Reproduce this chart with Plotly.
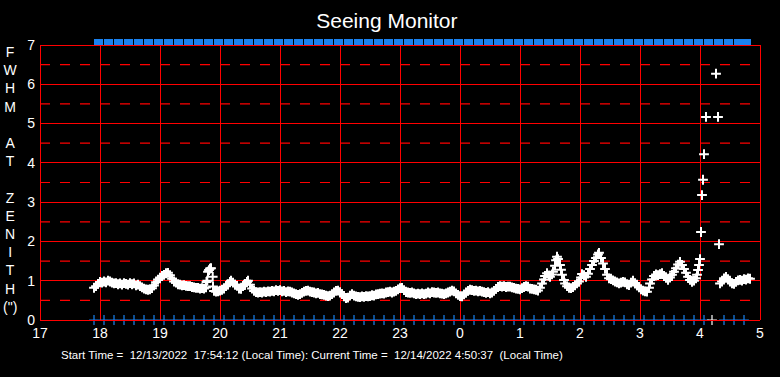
import plotly.graph_objects as go

# ---------------- data (times in minutes after 17:00 local) ----------------
seeing_minutes = [
    54, 56, 58, 60, 62, 64, 66, 68, 70, 72, 74, 76, 78, 80, 82, 84, 86, 88, 90, 92, 94, 96, 98,
    100, 102, 104, 106, 108, 110, 112, 114, 116, 118, 120, 122, 124, 126, 128, 130, 132, 134,
    136, 138, 140, 142, 144, 146, 148, 150, 152, 154, 156, 158, 160, 162, 164, 166,
    166.5, 167.3, 168, 169, 170, 171, 172.7, 173,
    174, 176, 178, 180, 182, 184, 186, 188, 190, 191, 193, 195, 197, 199, 201, 203, 205, 207,
    208, 210, 212, 214, 216, 218, 220, 222, 224, 226, 228, 230, 232, 234, 236, 238, 240, 242,
    244, 246, 248, 250, 252, 254, 256, 258, 260, 262, 264, 266, 268, 270, 272, 274, 276, 278,
    280, 282, 284, 286, 288, 290, 292, 294, 296, 298, 300, 302, 304, 306, 308, 310, 312, 314,
    316, 318, 320, 322, 324, 326, 328, 330, 332, 334, 336, 338, 340, 342, 344, 346, 348, 350,
    352, 354, 356, 358, 360, 362, 364, 366, 368, 370, 372, 374, 376, 378, 380, 382, 384, 386,
    388, 390, 392, 394, 396, 398, 400, 402, 404, 406, 408, 410, 412, 414, 416, 418, 420, 422,
    424, 426, 428, 430, 432, 434, 436, 438, 440, 442, 444, 446, 448, 450, 452, 454, 456, 458,
    460, 462, 464, 466, 468, 470, 472, 474, 476, 478, 480, 482, 484, 486, 488, 490, 492, 494,
    496, 498, 500, 502, 504, 505, 507, 509, 510, 512, 513, 515, 516, 517, 518, 520, 521, 522,
    524, 525, 527, 529, 531, 533, 535, 537, 539, 541, 542, 544, 546, 548, 550, 552, 554, 556,
    558, 559, 561, 563, 565, 567, 569, 571, 573, 575, 577, 579, 581, 583, 585, 587, 589, 591,
    593, 595, 597, 599, 601, 603, 605, 607, 609, 610, 612, 614, 616, 618, 620, 622, 624, 626,
    628, 630, 632, 634, 636, 638, 640, 642, 644, 646, 648, 650, 652, 654, 656, 657, 658, 659,
    660, 661, 662, 663, 664, 666, 676, 678, 679,
    680, 682, 684, 686, 688, 690, 692, 694, 696, 698, 700, 702, 704, 706, 708, 710,
]
seeing_fwhm = [
    0.82, 0.86, 0.92, 0.97, 0.95, 0.98, 0.96, 1.00, 0.98, 0.95, 0.93, 0.94, 0.91, 0.93, 0.90,
    0.94, 0.92, 0.90, 0.94, 0.91, 0.93, 0.88, 0.90,
    0.86, 0.83, 0.80, 0.78, 0.77, 0.78, 0.81, 0.88, 0.96, 1.03, 1.08, 1.12, 1.15, 1.19, 1.20,
    1.14, 1.05, 0.98, 0.95, 0.91, 0.90, 0.88, 0.89, 0.87, 0.86, 0.86, 0.84, 0.83, 0.82, 0.82,
    0.80, 0.81, 0.80, 0.83,
    0.97, 1.00, 1.23, 1.27, 1.31, 1.32, 1.10, 0.85,
    0.74, 0.72, 0.73, 0.75, 0.77, 0.80, 0.86, 0.91, 0.97, 1.00, 0.95, 0.90, 0.87, 0.80, 0.79,
    0.86, 0.92, 0.97,
    1.00, 0.90, 0.80, 0.74, 0.71, 0.70, 0.71, 0.70, 0.72, 0.71, 0.73, 0.72, 0.74, 0.73, 0.76,
    0.74, 0.76, 0.73,
    0.74, 0.71, 0.73, 0.72, 0.70, 0.68, 0.66, 0.64, 0.66, 0.69, 0.72, 0.74, 0.75, 0.72, 0.71,
    0.70, 0.68, 0.69,
    0.66, 0.65, 0.64, 0.62, 0.61, 0.62, 0.66, 0.70, 0.74, 0.75, 0.71, 0.66, 0.60, 0.56, 0.57,
    0.62, 0.66, 0.62,
    0.60, 0.59, 0.58, 0.60, 0.59, 0.61, 0.60, 0.61, 0.63, 0.62, 0.65, 0.66, 0.67, 0.68, 0.67,
    0.70, 0.71, 0.72,
    0.70, 0.72, 0.74, 0.78, 0.81, 0.82, 0.76, 0.71, 0.70, 0.69, 0.70, 0.68, 0.66, 0.67, 0.66,
    0.68, 0.66, 0.67,
    0.70, 0.68, 0.71, 0.70, 0.69, 0.70, 0.68, 0.67, 0.66, 0.68, 0.70, 0.72, 0.75, 0.73, 0.68,
    0.64, 0.61, 0.60,
    0.65, 0.70, 0.74, 0.77, 0.76, 0.74, 0.75, 0.73, 0.74, 0.72, 0.71, 0.69, 0.71, 0.68, 0.70,
    0.74, 0.79, 0.84,
    0.86, 0.85, 0.86, 0.84, 0.85, 0.85, 0.83, 0.82, 0.80, 0.79, 0.78, 0.81, 0.84, 0.86, 0.85,
    0.80, 0.79, 0.78,
    0.77, 0.75, 0.82, 0.93, 1.03, 1.12, 1.19, 1.13, 1.10, 1.16, 1.23, 1.38, 1.52, 1.61, 1.55,
    1.40, 1.28, 1.15,
    1.02, 0.93, 0.86, 0.82, 0.81, 0.84, 0.88, 0.93, 0.98, 1.08, 1.17, 1.14, 1.10, 1.18, 1.30,
    1.40, 1.50, 1.58,
    1.67, 1.71, 1.58, 1.44, 1.30, 1.15, 1.06, 1.04, 1.01, 0.98, 0.96, 0.93, 0.95, 0.97, 0.96,
    0.91, 0.89, 0.95,
    1.00, 0.94, 0.88, 0.83, 0.78, 0.75, 0.73, 0.72, 0.82, 0.93, 1.03, 1.12, 1.16, 1.14, 1.17,
    1.19, 1.12, 1.07,
    1.02, 1.08, 1.15, 1.23, 1.32, 1.41, 1.48, 1.40, 1.30, 1.20, 1.10, 1.02, 0.97, 1.00, 1.06,
    1.15, 1.27, 1.40,
    1.55, 2.24, 3.18, 3.57, 4.22, 5.17, 6.27, 5.17, 1.93,
    0.93, 0.98, 1.06, 1.10, 1.04, 0.98, 0.93, 0.92, 0.97, 1.01, 1.02, 1.00, 1.04, 1.03, 1.06,
    1.05,
]

# status markers along the bottom (blue) and top band (blue)
bottom_minutes = [
    54, 64, 74, 84, 94, 104, 114, 124, 134, 144, 154, 164, 174, 184, 194, 204, 214, 224, 234,
    244, 254, 264, 274, 284, 294, 304, 314, 324, 334, 344, 354, 364, 374, 384, 394, 404, 414,
    424, 434, 444, 454, 464, 474, 484, 494, 504, 514, 524, 534, 544, 554, 564, 574, 584, 594,
    604, 614, 624, 634, 644, 654, 664, 684, 694, 704,
]
bottom_level = [0] * len(bottom_minutes)
bottom_white_minutes = [672]
bottom_white_level = [0]

top_minutes = [
    58, 68, 78, 88, 98, 108, 118, 128, 138, 148, 158, 168, 178, 188, 198, 208, 218, 228, 238,
    248, 258, 268, 278, 288, 298, 308, 318, 328, 338, 348, 358, 368, 378, 388, 398, 408, 418,
    428, 438, 448, 458, 468, 478, 488, 498, 508, 518, 528, 538, 548, 558, 568, 578, 588, 598,
    608, 618, 628, 638, 648, 658, 668, 678, 688, 698, 706,
]
top_level = [7] * len(top_minutes)

hour_ticks = [17, 18, 19, 20, 21, 22, 23, 24, 25, 26, 27, 28, 29]
hour_labels = ["17", "18", "19", "20", "21", "22", "23", "0", "1", "2", "3", "4", "5"]
half_levels = [0.5, 1.5, 2.5, 3.5, 4.5, 5.5, 6.5]

title_text = "Seeing Monitor"
ylabel_letters = ["F", "W", "H", "M", "\u00a0", "A", "T", "\u00a0", "Z", "E", "N", "I", "T", "H", "(\")"]
footer_text = ("Start Time =\u00a0 12/13/2022\u00a0 17:54:12 (Local Time): Current Time =\u00a0 "
               "12/14/2022 4:50:37\u00a0 (Local Time)")


def to_hours(mins):
    return [17 + m / 60.0 for m in mins]


RED = "#ff0000"
BLUE = "#1a82f0"
FONT = "Liberation Sans, Arial, sans-serif"

# geometry: value 0 at y=320 px, value 7 at y=45 px; a 6 px band above 7 holds the blue blocks
PLOT_W = 720
PX_PER_UNIT = 275 / 7.0
BAND_PX = 6
Y_TOP = 7 + BAND_PX / PX_PER_UNIT
PLOT_H = 275 + BAND_PX


def paper_y(px_from_top_of_frame_bottom):
    """Convert a pixel offset above the y=0 line into a paper fraction."""
    return px_from_top_of_frame_bottom / PLOT_H


fig = go.Figure()

# top status band: small blocks standing on the y = 7 frame line
fig.add_trace(go.Bar(
    x=to_hours(top_minutes), y=[BAND_PX / PX_PER_UNIT] * len(top_minutes), base=top_level,
    width=9 / 60.0, marker=dict(color=BLUE, line=dict(width=0)),
    showlegend=False, hoverinfo="skip",
))
fig.add_trace(go.Scatter(
    x=to_hours(bottom_minutes), y=bottom_level, mode="markers",
    marker=dict(symbol="cross-thin", size=7, color=BLUE, line=dict(color=BLUE, width=1.2)),
    cliponaxis=False, showlegend=False,
))
fig.add_trace(go.Scatter(
    x=to_hours(bottom_white_minutes), y=bottom_white_level, mode="markers",
    marker=dict(symbol="cross-thin", size=7, color="white", line=dict(color="white", width=1.2)),
    cliponaxis=False, showlegend=False,
))
fig.add_trace(go.Scatter(
    x=to_hours(seeing_minutes), y=seeing_fwhm, mode="markers",
    marker=dict(symbol="cross-thin", size=7, color="white", opacity=1,
                line=dict(color="white", width=2)),
    cliponaxis=False, showlegend=False,
))

# half-unit dashed guides
for lv in half_levels:
    fig.add_shape(type="line", xref="paper", x0=0, x1=1, yref="y", y0=lv, y1=lv,
                  line=dict(color=RED, width=1.2, dash="10px,10px"), layer="below")
# left and right edges of the frame (between 0 and 7 only)
for xp in (0.5 / PLOT_W, 1 + 0.5 / PLOT_W):
    fig.add_shape(type="line", xref="paper", x0=xp, x1=xp, yref="y", y0=0, y1=7,
                  line=dict(color=RED, width=1), layer="below")

fig.update_layout(
    width=780, height=377,
    margin=dict(l=40, r=20, t=45 - BAND_PX, b=57),
    paper_bgcolor="black", plot_bgcolor="black",
    font=dict(family=FONT, color="white", size=14),
    title=dict(text=title_text, x=0.496, xanchor="center", y=1 - 21 / 377, yanchor="middle",
               font=dict(family=FONT, size=21, color="white")),
    xaxis=dict(
        range=[17, 29], tickmode="array", tickvals=hour_ticks, ticktext=hour_labels,
        showgrid=True, gridcolor=RED, gridwidth=1, zeroline=False,
        showline=True, linecolor=RED, linewidth=1, mirror=False,
        ticks="", tickfont=dict(family=FONT, size=14, color="white"),
    ),
    yaxis=dict(
        range=[0, Y_TOP], tickmode="linear", tick0=0, dtick=1,
        showgrid=True, gridcolor=RED, gridwidth=1, zeroline=False,
        showline=False,
        ticks="", ticklabelstandoff=4, tickfont=dict(family=FONT, size=14, color="white"),
    ),
    bargap=0,
)

fig.add_annotation(
    text="<br>".join(ylabel_letters), xref="paper", yref="paper",
    x=-30 / PLOT_W, y=paper_y(320 - 179.5), xanchor="center", yanchor="middle",
    showarrow=False, align="center", font=dict(family=FONT, size=14, color="white"),
)
fig.add_annotation(
    text=footer_text, xref="paper", yref="paper",
    x=(312 - 40) / PLOT_W, y=paper_y(320 - 355), xanchor="center", yanchor="middle",
    showarrow=False, font=dict(family=FONT, size=11.5, color="white"),
)

fig.write_html(
    "out.html",
    config={"displayModeBar": False},
    post_script="document.body.style.margin='0';document.body.style.background='black';",
)
